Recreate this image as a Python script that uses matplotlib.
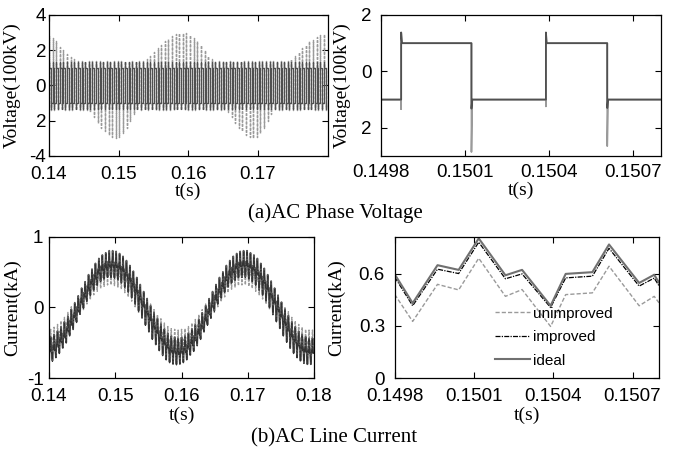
import numpy as np
import matplotlib
matplotlib.use("Agg")
import matplotlib.pyplot as plt

# ---------------- datos ----------------
# Tension de fase (vista larga): conmutacion de periodo fijo
T_SW = 0.00052          # periodo de conmutacion (s)
N_CICLOS = 77
T_INICIO = 0.14
DUTY = 0.46
pico_oscuro = 1.35      # sobreimpulso del trazo mejorado/ideal

# sobreimpulso del trazo sin mejora, flanco de subida (uno por ciclo)
pico_sup_gris = [2.8, 2.7, 2.5, 2.2, 2.0, 1.8, 1.6, 1.5, 1.4,
                 1.4, 1.4, 1.4, 1.4, 1.4, 1.4, 1.4, 1.4, 1.4,
                 1.4, 1.4, 1.4, 1.4, 1.4, 1.4, 1.4, 1.4, 1.4,
                 1.5, 1.7, 1.9, 2.1, 2.3, 2.5, 2.65, 2.8, 2.9, 2.95, 3.0,
                 2.95, 2.85, 2.7, 2.5, 2.3, 2.0, 1.7, 1.5, 1.4, 1.4,
                 1.4, 1.4, 1.4, 1.4, 1.4, 1.4, 1.4, 1.4, 1.4, 1.4,
                 1.4, 1.4, 1.4, 1.4, 1.4, 1.4, 1.4, 1.4, 1.4,
                 1.5, 1.7, 1.9, 2.1, 2.3, 2.5, 2.6, 2.75, 2.85, 2.9]
# sobreimpulso del trazo sin mejora, flanco de bajada (uno por ciclo)
pico_inf_gris = [-1.4, -1.4, -1.4, -1.4, -1.4, -1.4, -1.4, -1.4, -1.4, -1.4, -1.4,
                 -1.5, -1.8, -2.1, -2.4, -2.6, -2.8, -2.95, -3.0, -2.9, -2.7, -2.4, -2.0, -1.6,
                 -1.4, -1.4, -1.4, -1.4, -1.4, -1.4, -1.4, -1.4, -1.4, -1.4,
                 -1.4, -1.4, -1.4, -1.4, -1.4, -1.4, -1.4, -1.4, -1.4, -1.4,
                 -1.4, -1.4, -1.4, -1.4, -1.4,
                 -1.5, -1.8, -2.1, -2.4, -2.6, -2.8, -2.95, -3.0, -2.9, -2.7, -2.4, -2.0, -1.6,
                 -1.4, -1.4, -1.4, -1.4, -1.4, -1.4, -1.4, -1.4, -1.4, -1.4,
                 -1.4, -1.4, -1.4, -1.4, -1.4]

# Tension de fase (zoom)
vz_t = [0.14980, 0.149872, 0.149872, 0.149875, 0.150123, 0.150123, 0.150126,
        0.150389, 0.150389, 0.150392, 0.150608, 0.150608, 0.150611, 0.15081]
vz_oscuro = [-1.0, -1.0, 1.38, 1.0, 1.0, -1.32, -1.0,
             -1.0, 1.38, 1.0, 1.0, -1.30, -1.0, -1.0]
vz_gris_t = [0.14980, 0.149872, 0.149872, 0.149872, 0.150123, 0.150123, 0.150126,
             0.150389, 0.150389, 0.150389, 0.150608, 0.150608, 0.150611, 0.15081]
vz_gris = [-1.0, -1.0, -1.34, 1.0, 1.0, -2.86, -1.0,
           -1.0, -1.24, 1.0, 1.0, -2.65, -1.0, -1.0]

# Corriente de linea (vista larga): valor medio por ciclo de conmutacion
i_medio_ideal = [-0.60, -0.57, -0.52, -0.46, -0.39, -0.31, -0.21, -0.12, -0.02, 0.09,
                 0.18, 0.28, 0.36, 0.44, 0.51, 0.56, 0.59, 0.62, 0.62, 0.61,
                 0.58, 0.54, 0.48, 0.41, 0.33, 0.24, 0.14, 0.04, -0.06, -0.16,
                 -0.26, -0.34, -0.42, -0.49, -0.55, -0.59, -0.61, -0.62, -0.61, -0.59,
                 -0.55, -0.49, -0.43, -0.35, -0.26, -0.16, -0.06, 0.04, 0.14, 0.24,
                 0.32, 0.41, 0.48, 0.54, 0.58, 0.61, 0.62, 0.62, 0.59, 0.56,
                 0.51, 0.44, 0.37, 0.28, 0.19, 0.09, -0.01, -0.11, -0.21, -0.30,
                 -0.39, -0.46, -0.52, -0.57, -0.60, -0.62, -0.62]
i_medio_sinmejora = [-0.49, -0.46, -0.42, -0.37, -0.32, -0.25, -0.17, -0.10, -0.02, 0.07,
                     0.15, 0.23, 0.29, 0.36, 0.41, 0.45, 0.48, 0.50, 0.50, 0.49,
                     0.47, 0.44, 0.39, 0.33, 0.27, 0.19, 0.11, 0.03, -0.05, -0.13,
                     -0.21, -0.28, -0.34, -0.40, -0.45, -0.48, -0.49, -0.50, -0.49, -0.48,
                     -0.45, -0.40, -0.35, -0.28, -0.21, -0.13, -0.05, 0.03, 0.11, 0.19,
                     0.26, 0.33, 0.39, 0.44, 0.47, 0.49, 0.50, 0.50, 0.48, 0.45,
                     0.41, 0.36, 0.30, 0.23, 0.15, 0.07, -0.01, -0.09, -0.17, -0.24,
                     -0.32, -0.37, -0.42, -0.46, -0.49, -0.50, -0.50]
rizado_frac = [0.0, 0.18, 0.333, 0.479, 0.672, 0.793]
rizado_ideal = [-0.185, 0.03, 0.0, 0.185, -0.025, 0.0]
rizado_mejorado = [-0.195, 0.01, -0.02, 0.165, -0.045, -0.02]
rizado_sinmejora = [-0.18, 0.03, 0.0, 0.18, -0.04, 0.0]

# Corriente de linea (zoom)
iz_t = [0.14980, 0.149868, 0.149962, 0.150042, 0.150118, 0.150219, 0.150282,
        0.150390, 0.150447, 0.150548, 0.150611, 0.150725, 0.150782, 0.150800]
iz_ideal = [0.596, 0.430, 0.648, 0.621, 0.802, 0.590, 0.621,
            0.415, 0.598, 0.608, 0.767, 0.546, 0.593, 0.548]
iz_mejorado = [0.580, 0.415, 0.625, 0.600, 0.780, 0.570, 0.598,
               0.405, 0.575, 0.585, 0.745, 0.528, 0.574, 0.530]
iz_sinmejora = [0.480, 0.325, 0.538, 0.506, 0.688, 0.469, 0.508,
                0.296, 0.479, 0.489, 0.642, 0.415, 0.469, 0.432]

# ---------------- estilo ----------------
SANS = ['Liberation Sans', 'DejaVu Sans']
SERIF = ['Liberation Serif', 'DejaVu Serif']
C_OSCURO = '#505050'
C_GRIS = '#9a9a9a'

fig = plt.figure(figsize=(6.74, 4.54), dpi=100)
ax1 = fig.add_axes([0.0727, 0.6564, 0.4139, 0.3106])
ax2 = fig.add_axes([0.5653, 0.6564, 0.4154, 0.3106])
ax3 = fig.add_axes([0.0727, 0.1674, 0.3932, 0.3106])
ax4 = fig.add_axes([0.5856, 0.1674, 0.3921, 0.3106])

# ---- (a) tension, vista larga ----
t_ini = T_INICIO + np.arange(N_CICLOS) * T_SW
t_fin = t_ini + DUTY * T_SW
x_pwm = np.column_stack([t_ini, t_ini, t_ini, t_fin, t_fin, t_fin]).ravel()
unos = np.ones(N_CICLOS)
y_gris = np.column_stack([-unos, pico_sup_gris, unos, unos, pico_inf_gris, -unos]).ravel()
y_osc = np.column_stack([-unos, pico_oscuro * unos, unos, unos,
                         -pico_oscuro * unos, -unos]).ravel()
ax1.plot(x_pwm, y_gris, color=C_GRIS, lw=1.0, ls=(0, (2, 1)))
ax1.plot(x_pwm, y_osc, color=C_OSCURO, lw=0.9)
ax1.set_xlim(0.14, 0.1801)
ax1.set_ylim(-4, 4)
ax1.set_xticks([0.14, 0.15, 0.16, 0.17])
ax1.set_xticklabels(['0.14', '0.15', '0.16', '0.17'])
ax1.set_yticks([-4, -2, 0, 2, 4])
ax1.set_yticklabels(['-4', '2', '0', '2', '4'])
ax1.set_ylabel('Voltage(100kV)', family=SERIF, fontsize=14)

# ---- (a) tension, zoom ----
ax2.plot(vz_gris_t, vz_gris, color=C_GRIS, lw=1.2)
ax2.plot(vz_t, vz_oscuro, color=C_OSCURO, lw=1.3)
ax2.set_xlim(0.1498, 0.1508)
ax2.set_ylim(-3, 2)
ax2.set_xticks([0.1498, 0.1501, 0.1504, 0.1507])
ax2.set_xticklabels(['0.1498', '0.1501', '0.1504', '0.1507'])
ax2.set_yticks([-2, 0, 2])
ax2.set_yticklabels(['2', '0', '2'])
ax2.set_ylabel('Voltage(100kV)', family=SERIF, fontsize=14)

# ---- (b) corriente, vista larga ----
frac = np.array(rizado_frac)
t_rz = (t_ini[:, None] + frac[None, :] * T_SW).ravel()
y_ideal = (np.array(i_medio_ideal)[:, None] + np.array(rizado_ideal)[None, :]).ravel()
y_mej = (np.array(i_medio_ideal)[:, None] + np.array(rizado_mejorado)[None, :]).ravel()
y_sin = (np.array(i_medio_sinmejora)[:, None] + np.array(rizado_sinmejora)[None, :]).ravel()
ax3.plot(t_rz, y_sin, color=C_GRIS, lw=1.0, ls=(0, (2, 1)))
ax3.plot(t_rz, y_ideal, color='#5a5a5a', lw=1.3)
ax3.plot(t_rz, y_mej, color='#333333', lw=0.8, ls='-.')
ax3.set_xlim(0.14, 0.18)
ax3.set_ylim(-1, 1)
ax3.set_xticks([0.14, 0.15, 0.16, 0.17, 0.18])
ax3.set_xticklabels(['0.14', '0.15', '0.16', '0.17', '0.18'])
ax3.set_yticks([-1, 0, 1])
ax3.set_yticklabels(['-1', '0', '1'])
ax3.set_ylabel('Current(kA)', family=SERIF, fontsize=14)

# ---- (b) corriente, zoom ----
ax4.plot(iz_t, iz_sinmejora, color=C_GRIS, lw=1.0, ls=(0, (3, 1.5)), label='unimproved')
ax4.plot(iz_t, iz_mejorado, color='black', lw=0.9, ls=(0, (4, 1, 1, 1)), label='improved')
ax4.plot(iz_t, iz_ideal, color='#707070', lw=1.5, label='ideal')
ax4.set_xlim(0.1498, 0.1508)
ax4.set_ylim(0, 0.81)
ax4.set_xticks([0.1498, 0.1501, 0.1504, 0.1507])
ax4.set_xticklabels(['0.1498', '0.1501', '0.1504', '0.1507'])
ax4.set_yticks([0, 0.3, 0.6])
ax4.set_yticklabels(['0', '0.3', '0.6'])
ax4.set_ylabel('Current(kA)', family=SERIF, fontsize=14)
ax4.legend(loc='upper left', bbox_to_anchor=(0.38, 0.505), frameon=False,
           prop={'family': SANS, 'size': 11}, handlelength=2.3,
           handletextpad=0.15, labelspacing=0.62, borderpad=0, borderaxespad=0)

# ejes comunes
for ax, pad_x, pad_y in [(ax1, 7.5, 2), (ax2, 6, 7), (ax3, 7, 4), (ax4, 7, 7)]:
    ax.tick_params(axis='both', direction='in', top=True, right=True,
                   length=4, width=0.8, labelsize=13.5)
    ax.tick_params(axis='x', pad=pad_x)
    ax.tick_params(axis='y', pad=pad_y)
    for lab in ax.get_xticklabels() + ax.get_yticklabels():
        lab.set_family(SANS)
    for s in ax.spines.values():
        s.set_linewidth(0.9)
    ax.set_xlabel('t(s)', family=SERIF, fontsize=14, labelpad=0)

ax1.yaxis.set_label_coords(-0.10, 0.5)
ax2.yaxis.set_label_coords(-0.107, 0.5)
ax3.yaxis.set_label_coords(-0.106, 0.5)
ax4.yaxis.set_label_coords(-0.188, 0.5)
ax1.xaxis.set_label_coords(0.5, -0.19)
ax2.xaxis.set_label_coords(0.5, -0.185)
ax3.xaxis.set_label_coords(0.5, -0.2)
ax4.xaxis.set_label_coords(0.5, -0.2)

fig.text(0.497, 0.531, '(a)AC Phase Voltage', family=SERIF, fontsize=15,
         ha='center', va='center')
fig.text(0.495, 0.035, '(b)AC Line Current', family=SERIF, fontsize=15,
         ha='center', va='center')

fig.savefig('out.png', dpi=100)
